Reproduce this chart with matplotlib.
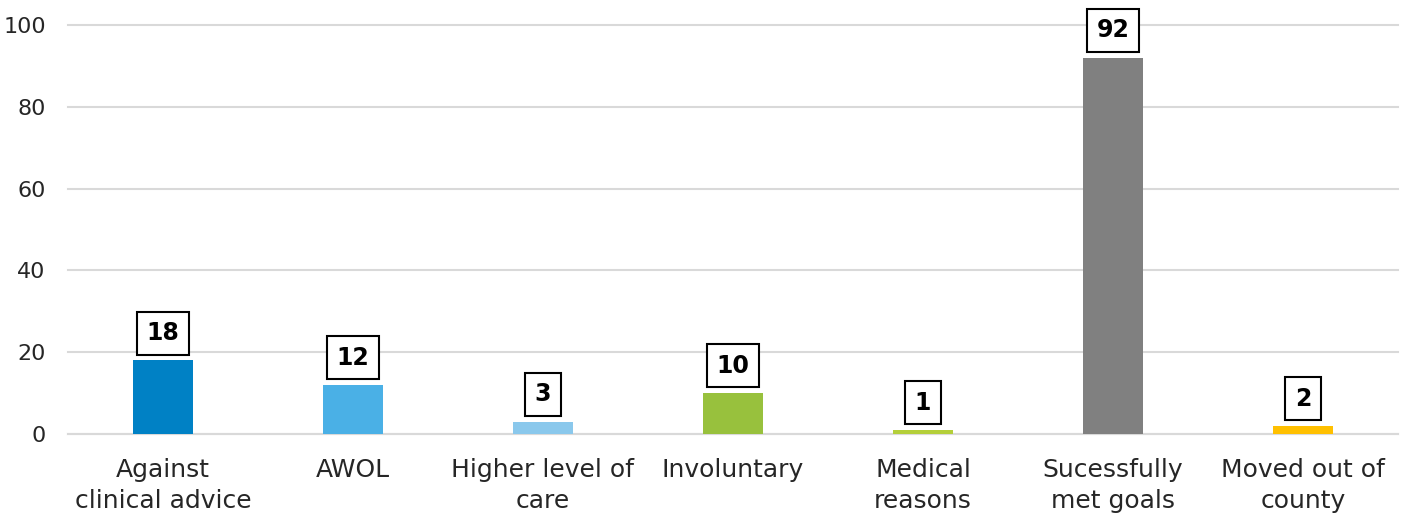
import numpy as np
import matplotlib.pyplot as plt

categories = ["Against\nclinical advice", "AWOL", "Higher level of\ncare", "Involuntary",
              "Medical\nreasons", "Sucessfully\nmet goals", "Moved out of\ncounty"]
values = [18, 12, 3, 10, 1, 92, 2]
colors = ["#0081C5", "#4AB0E6", "#8AC8EC", "#98C13D", "#B4CF3A", "#808080", "#FFC000"]
yticks = [0, 20, 40, 60, 80, 100]

plt.rcParams['font.family'] = ['DejaVu Sans']

fig = plt.figure(figsize=(14.13, 5.18), dpi=100)
ax = fig.add_axes([0.0481, 0.1622, 0.9413, 0.7895])

x = np.arange(len(categories))
bars = ax.bar(x, values, width=0.316, color=colors, zorder=3)

for b, v in zip(bars, values):
    ax.annotate(str(v), (b.get_x() + b.get_width() / 2, v), xytext=(0, 11),
                textcoords="offset points", ha="center", va="bottom",
                fontsize=17, fontweight="bold", color="black", clip_on=False,
                bbox=dict(boxstyle="square,pad=0.4", fc="white", ec="black", lw=1.5))

ax.set_xlim(-0.5, len(categories) - 0.5)
ax.set_ylim(0, 100)
ax.set_yticks(yticks)
ax.set_xticks(x)
ax.set_xticklabels(categories, fontsize=18, color="#262626", linespacing=1.4)
ax.tick_params(axis="y", labelsize=16, labelcolor="#262626", length=0, pad=16)
ax.tick_params(axis="x", length=0, pad=17)
ax.grid(axis="y", color="#D9D9D9", lw=1.5, zorder=0)
for gl in ax.get_ygridlines():
    gl.set_clip_on(False)
for s in ["top", "right", "left"]:
    ax.spines[s].set_visible(False)
ax.spines["bottom"].set_color("#D9D9D9")
ax.spines["bottom"].set_linewidth(1.5)

fig.savefig("out.png", dpi=100)
